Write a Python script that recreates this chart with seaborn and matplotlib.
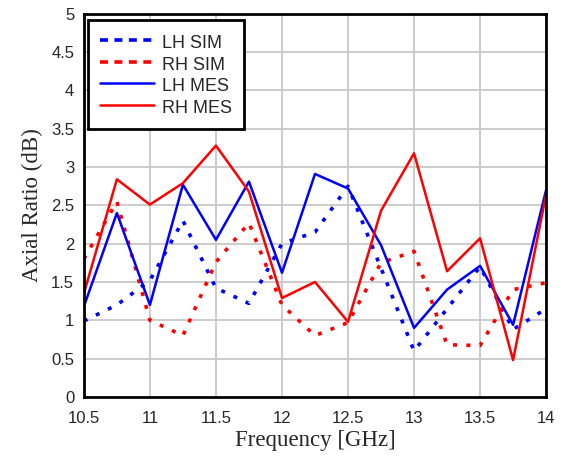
import numpy as np
import pandas as pd
import matplotlib
matplotlib.use("Agg")
import matplotlib.pyplot as plt
from matplotlib.lines import Line2D
import seaborn as sns

freq = [10.5, 10.75, 11.0, 11.25, 11.5, 11.75, 12.0, 12.25, 12.5,
        12.75, 13.0, 13.25, 13.5, 13.75, 14.0]

lh_sim = [0.99, 1.2, 1.52, 2.3, 1.42, 1.22, 2.0, 2.15, 2.75,
          1.68, 0.6, 1.15, 1.7, 0.88, 1.15]
rh_sim = [1.8, 2.55, 1.0, 0.8, 1.76, 2.27, 1.2, 0.8, 0.97,
          1.75, 1.9, 0.68, 0.67, 1.4, 1.49]
lh_mes = [1.18, 2.4, 1.2, 2.77, 2.05, 2.81, 1.62, 2.91, 2.72,
          1.98, 0.9, 1.4, 1.71, 0.94, 2.7]
rh_mes = [1.35, 2.84, 2.51, 2.79, 3.28, 2.68, 1.29, 1.5, 0.98,
          2.43, 3.18, 1.64, 2.07, 0.48, 2.64]

labels = ["LH SIM", "RH SIM", "LH MES", "RH MES"]

sns.set_style("white")

fig = plt.figure(figsize=(5.63, 4.62), dpi=100)
ax = fig.add_axes([0.149, 0.141, 0.821, 0.829])

dot = (0, (1.1, 2.6))
sns.lineplot(x=freq, y=lh_sim, ax=ax, color="#0000ff", lw=2.6, linestyle=dot)
sns.lineplot(x=freq, y=rh_sim, ax=ax, color="#ff0000", lw=2.6, linestyle=dot)
sns.lineplot(x=freq, y=lh_mes, ax=ax, color="#0000ff", lw=1.8)
sns.lineplot(x=freq, y=rh_mes, ax=ax, color="#ff0000", lw=1.8)

ax.set_xlim(10.5, 14)
ax.set_ylim(0, 5)
ax.set_xticks(np.arange(10.5, 14.01, 0.5))
ax.set_yticks(np.arange(0, 5.01, 0.5))
ax.set_xticklabels(["10.5", "11", "11.5", "12", "12.5", "13", "13.5", "14"])
ax.set_yticklabels(["0", "0.5", "1", "1.5", "2", "2.5", "3", "3.5", "4", "4.5", "5"])
ax.grid(True, color="#c8c8c8", lw=1.3)
ax.tick_params(length=0, pad=7, labelsize=12)
ax.tick_params(axis="x", pad=10)
for lab in ax.get_xticklabels() + ax.get_yticklabels():
    lab.set_family("Liberation Sans")
for s in ax.spines.values():
    s.set_color("black")
    s.set_linewidth(2)

ax.set_xlabel("Frequency [GHz]", family="Liberation Serif", fontsize=16.5, labelpad=3)
ax.set_ylabel("Axial Ratio (dB)", family="Liberation Serif", fontsize=16.5, labelpad=6)

dash = (0, (2.2, 1.8))
handles = [
    Line2D([], [], color="#0000ff", lw=2.6, linestyle=dash),
    Line2D([], [], color="#ff0000", lw=2.6, linestyle=dash),
    Line2D([], [], color="#0000ff", lw=1.8),
    Line2D([], [], color="#ff0000", lw=1.8),
]
leg = ax.legend(handles, labels, loc="upper left", bbox_to_anchor=(0.008, 0.983),
                fancybox=False, framealpha=1, edgecolor="black",
                handlelength=3.0, handleheight=1.25,
                prop={"family": "Liberation Sans", "size": 13},
                borderaxespad=0, borderpad=0.68, labelspacing=0.1, handletextpad=0.45)
leg.get_frame().set_linewidth(2)

fig.savefig("out.png", dpi=100)
